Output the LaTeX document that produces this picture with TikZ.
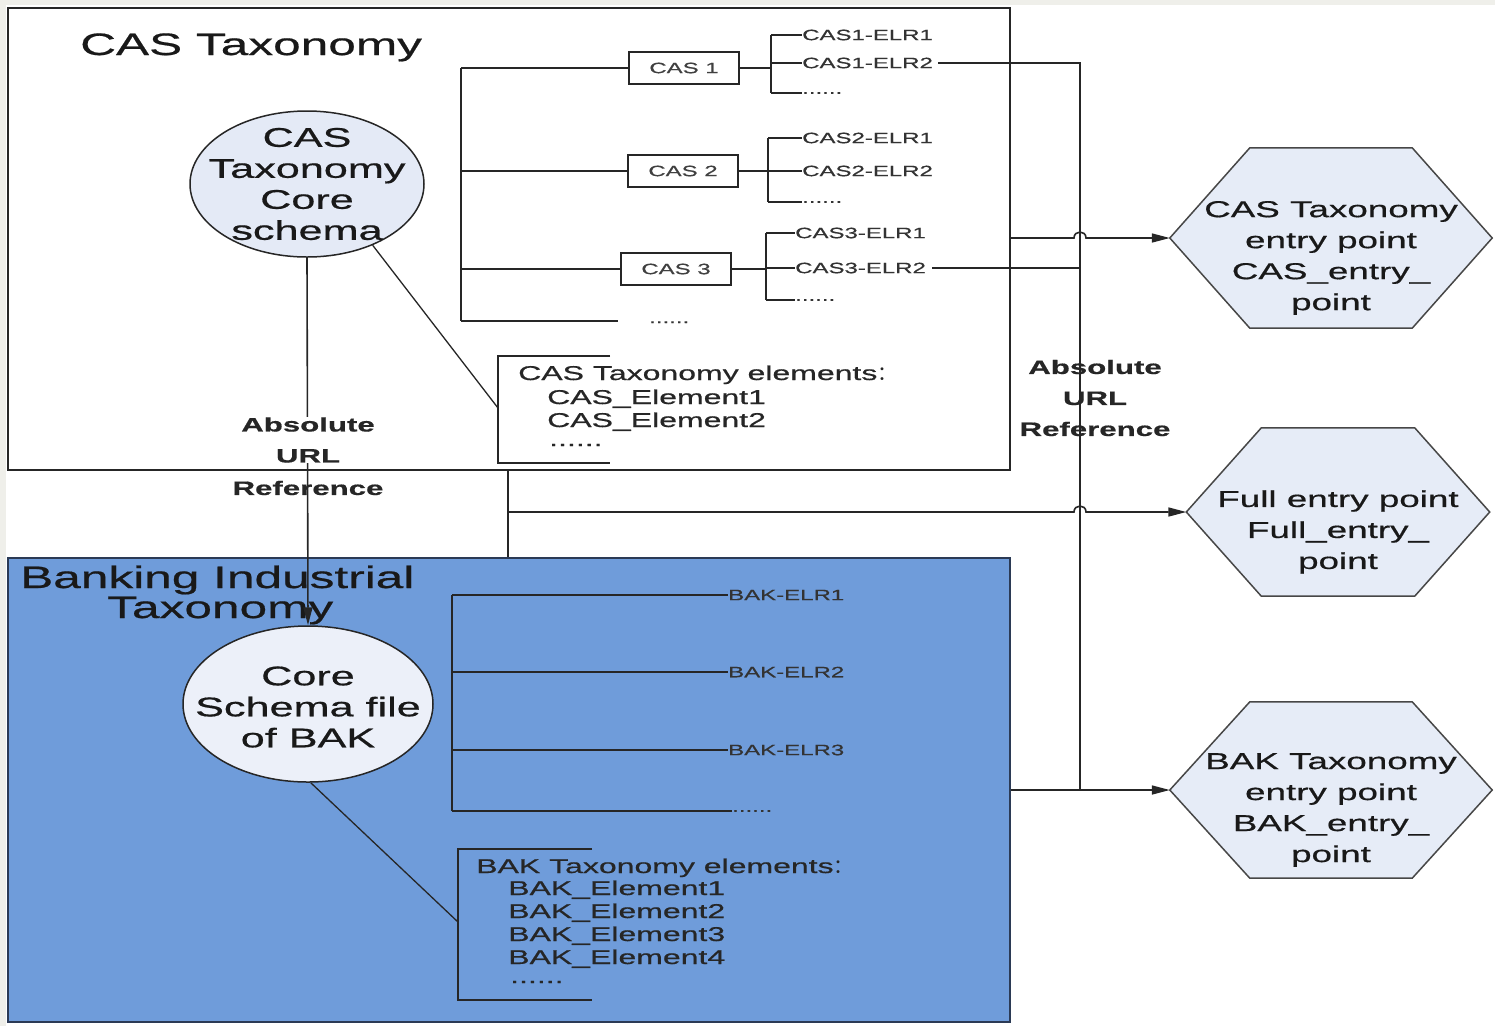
\documentclass[tikz,border=0pt]{standalone}
\usepackage{fontspec}
\setmainfont{Liberation Sans}[FakeStretch=1.6, FakeBold=0.6]
\newfontfamily\cjk{Noto Sans CJK SC}
\usetikzlibrary{arrows.meta,shapes.geometric,calc,backgrounds}
\definecolor{linec}{HTML}{262626}
\definecolor{bakfill}{HTML}{6F9CDA}
\definecolor{ellfill}{HTML}{E4EAF6}
\definecolor{hexfill}{HTML}{E6ECF7}
\definecolor{slidebg}{HTML}{EFEFEA}
\definecolor{bakborder}{HTML}{2B3A55}
\tikzset{
  conn/.style={draw=linec, line width=1.6pt},
  arr/.style={conn, -{Triangle[length=18pt,width=9pt]}},
  framebox/.style={draw=linec, line width=1.8pt, inner sep=0pt},
  ellnode/.style={ellipse, draw=linec, line width=1.5pt, fill=ellfill, inner sep=0pt},
  circtext/.style={align=center, inner sep=0pt, font=\fontsize{27}{31}\selectfont, text=black!90},
  casbox/.style={draw=linec, line width=1.6pt, minimum width=110pt, minimum height=32pt, inner sep=0pt, font=\fontsize{15}{15}\selectfont, text=black!75},
  elr/.style={anchor=west, inner sep=0pt, font=\fontsize{15}{15}\selectfont, text=black!80},
  elem/.style={anchor=base west, inner sep=0pt, font=\fontsize{20}{23}\selectfont, text=black!85},
  hexnode/.style={inner sep=0pt},
  hexshape/.style={draw=linec!85, line width=1.5pt, fill=hexfill},
  hextext/.style={align=center, inner sep=0pt, font=\fontsize{23}{31}\selectfont, text=black!90, yshift=-20pt},
  reflabel/.style={align=center, inner sep=0pt, font=\bfseries\fontsize{19.5}{31}\selectfont, text=black!85},
  titletext/.style={anchor=base west, inner sep=0pt, font=\fontsize{31}{31}\selectfont, text=black!90},
}
\begin{document}
\begin{tikzpicture}[x=1pt,y=-1pt]
\useasboundingbox (0,0) rectangle (1495,1026);
\begin{scope}[on background layer]
  \fill[white] (0,0) rectangle (1495,1026);
  \fill[slidebg] (0,0) rectangle (1495,5);
  \fill[slidebg] (0,0) rectangle (6,1026);
\end{scope}

% containers
\node[framebox, minimum width=1002pt, minimum height=462pt] (casbox) at (509,239) {};
\node[framebox, draw=bakborder, fill=bakfill, line width=2pt, minimum width=1002pt, minimum height=464pt] (bakbox) at (509,790) {};

% titles
\node[titletext] (castitle) at (80,55) {CAS Taxonomy};
\node[titletext] (baktitle1) at (20,588) {Banking Industrial};
\node[titletext] (baktitle2) at (107,618) {Taxonomy};

% core schema ellipses
\node[ellnode, minimum width=234pt, minimum height=146pt,
      label={[circtext]center:CAS\\Taxonomy\\Core\\schema}] (casc) at (307,184) {};
\node[ellnode, fill=ellfill!70!white, minimum width=250pt, minimum height=156pt,
      label={[circtext, yshift=-3pt]center:Core\\Schema file\\of BAK}] (bakc) at (308,704) {};

% CAS tree
\node[casbox] (cas1) at (684,68) {CAS 1};
\node[casbox] (cas2) at (683,171) {CAS 2};
\node[casbox] (cas3) at (676,269) {CAS 3};
\coordinate (tr1) at (461,68);
\coordinate (tr2) at (461,171);
\coordinate (tr3) at (461,269);
\coordinate (tr4) at (461,321);
\coordinate (tr4e) at (618,321);
\node[elr, anchor=base west] (trdots) at (649,323) {......};
\draw[conn] (tr1) -- (tr4);
\draw[conn] (tr1) -- (cas1);
\draw[conn] (tr2) -- (cas2);
\draw[conn] (tr3) -- (cas3);
\draw[conn] (tr4) -- (tr4e);

% CAS 1 subtree
\coordinate (s1) at (771,68);
\node[elr] (elr11) at (802,35) {CAS1-ELR1};
\node[elr] (elr12) at (802,63) {CAS1-ELR2};
\node[elr] (elr13) at (802,93) {......};
\draw[conn] (cas1) -- (s1);
\draw[conn] (elr11.west -| s1) -- (elr13.west -| s1);
\draw[conn] (elr11.west -| s1) -- (elr11.west);
\draw[conn] (elr12.west -| s1) -- (elr12.west);
\draw[conn] (elr13.west -| s1) -- (elr13.west);

% CAS 2 subtree
\coordinate (s2) at (768,171);
\node[elr] (elr21) at (802,138) {CAS2-ELR1};
\node[elr] (elr22) at (802,171) {CAS2-ELR2};
\node[elr] (elr23) at (802,202) {......};
\draw[conn] (cas2) -- (s2);
\draw[conn] (elr21.west -| s2) -- (elr23.west -| s2);
\draw[conn] (elr21.west -| s2) -- (elr21.west);
\draw[conn] (elr22.west -| s2) -- (elr22.west);
\draw[conn] (elr23.west -| s2) -- (elr23.west);

% CAS 3 subtree
\coordinate (s3) at (766,269);
\node[elr] (elr31) at (795,233) {CAS3-ELR1};
\node[elr] (elr32) at (795,268) {CAS3-ELR2};
\node[elr] (elr33) at (795,300) {......};
\draw[conn] (cas3) -- (s3);
\draw[conn] (elr31.west -| s3) -- (elr33.west -| s3);
\draw[conn] (elr31.west -| s3) -- (elr31.west);
\draw[conn] (elr32.west -| s3) -- (elr32.west);
\draw[conn] (elr33.west -| s3) -- (elr33.west);

% CAS elements
\coordinate (cbr) at (498,408);
\draw[conn, line width=1.3pt] (casc.-43) -- (cbr);
\draw[conn] (610,356) -- (498,356) -- (498,463) -- (610,463);
\node[elem] (ce0) at (518,380) {CAS Taxonomy elements{\cjk ：}};
\node[elem] (ce1) at (547,404) {CAS\_Element1};
\node[elem] (ce2) at (547,427) {CAS\_Element2};
\node[elem] (ce3) at (549,446) {......};

% BAK tree
\coordinate (btr) at (452,597);
\node[elr] (belr1) at (728,595) {BAK-ELR1};
\node[elr] (belr2) at (728,672) {BAK-ELR2};
\node[elr] (belr3) at (728,750) {BAK-ELR3};
\node[elr] (belr4) at (732,811) {......};
\draw[conn] (belr1.west -| btr) -- (belr4.west -| btr);
\draw[conn] (belr1.west -| btr) -- (belr1.west);
\draw[conn] (belr2.west -| btr) -- (belr2.west);
\draw[conn] (belr3.west -| btr) -- (belr3.west);
\draw[conn] (belr4.west -| btr) -- (belr4.west);

% BAK elements
\coordinate (bbr) at (458,922);
\draw[conn, line width=1.3pt] (bakc.-88) -- (bbr);
\draw[conn] (592,849) -- (458,849) -- (458,1000) -- (592,1000);
\node[elem] (be0) at (476,873) {BAK Taxonomy elements{\cjk ：}};
\node[elem] (be1) at (508,895) {BAK\_Element1};
\node[elem] (be2) at (508,918) {BAK\_Element2};
\node[elem] (be3) at (508,941) {BAK\_Element3};
\node[elem] (be4) at (508,964) {BAK\_Element4};
\node[elem] (be5) at (510,983) {......};

% left absolute URL reference
\draw[arr] (casc.south) -- (bakc.north);
\node[reflabel, fill=white] (lref1) at (308,440) {Absolute\\URL};
\node[reflabel] (lref2) at (308,488) {Reference};

% entry point hexagons
\node[hexnode, minimum width=322pt, minimum height=180pt,
      label={[hextext]center:CAS Taxonomy\\entry point\\CAS\_entry\_\\point}] (cashex) at (1331,238) {};
\node[hexnode, minimum width=303pt, minimum height=168pt,
      label={[hextext]center:Full entry point\\Full\_entry\_\\point}] (fullhex) at (1338,512) {};
\node[hexnode, minimum width=322pt, minimum height=176pt,
      label={[hextext]center:BAK Taxonomy\\entry point\\BAK\_entry\_\\point}] (bakhex) at (1331,790) {};
\begin{scope}[on background layer]
  \foreach \h/\d in {cashex/80, fullhex/75, bakhex/80}
    \filldraw[hexshape] (\h.west) -- ([xshift=\d pt]\h.north west) -- ([xshift=-\d pt]\h.north east)
      -- (\h.east) -- ([xshift=-\d pt]\h.south east) -- ([xshift=\d pt]\h.south west) -- cycle;
\end{scope}

% right absolute URL reference bus
\coordinate (vtop) at (1080,63);
\coordinate (vbot) at (1080,790);
\draw[conn] ([xshift=5pt]elr12.east) -- (vtop) -- (vbot);
\draw[conn] ([xshift=6pt]elr32.east) -- (elr32.east -| vtop);
\node[reflabel] (rref) at (1095,398) {Absolute\\URL\\Reference};

% entry point arrows
\draw[arr] (casbox.east |- cashex.west) -- (1074,238) .. controls (1074,230) and (1086,230) .. (1086,238) -- (cashex.west);
\coordinate (fj) at (508,512);
\draw[conn] (fj |- casbox.south) -- (fj |- bakbox.north);
\draw[arr] (fj) -- (1074,512) .. controls (1074,504) and (1086,504) .. (1086,512) -- (fullhex.west);
\draw[arr] (bakbox.east) -- (bakhex.west);
\end{tikzpicture}
\end{document}
